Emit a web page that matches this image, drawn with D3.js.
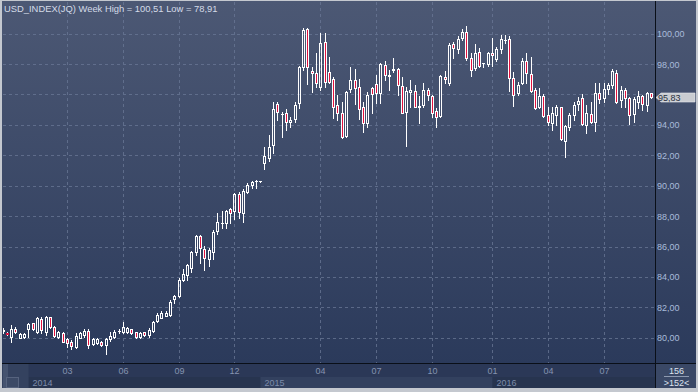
<!DOCTYPE html>
<html><head><meta charset="utf-8">
<script src="https://cdn.jsdelivr.net/npm/d3@7"></script>
<style>html,body{margin:0;padding:0;background:#c4c8cf;overflow:hidden}svg{display:block}</style>
</head><body><svg id="c" width="698" height="392"></svg>
<script>
// ---------- data ----------
const opens = [80.45,80.30,80.07,80.60,80.00,80.05,80.55,80.95,80.40,81.20,80.40,81.34,80.73,80.03,80.29,79.90,79.70,79.41,80.00,80.18,
80.46,79.58,79.63,79.74,79.52,79.90,80.02,80.44,80.35,80.40,80.55,80.35,80.02,80.35,80.18,80.46,81.12,81.27,81.43,81.50,
82.57,82.75,83.80,84.13,84.56,85.66,86.69,85.81,85.18,85.66,87.02,87.57,87.57,88.45,88.34,89.43,88.23,89.61,90.03,90.28,
90.28,91.48,91.80,92.68,95.37,94.72,94.76,94.17,94.37,95.42,97.79,100.29,97.55,97.43,96.52,99.47,97.50,97.00,95.31,94.80,
93.27,96.34,96.95,96.51,95.15,94.10,96.40,96.69,96.08,97.94,97.24,97.61,97.65,96.56,94.87,96.19,96.23,95.20,95.31,96.30,
95.90,94.94,94.59,97.13,96.73,99.32,98.97,99.69,100.09,98.38,97.72,98.80,98.05,98.00,98.71,98.31,98.97,99.58,99.63,97.06,
96.08,96.73,98.22,97.35,96.30,95.15,95.90,94.65,94.10,94.65,95.16,92.96,93.88,94.65,95.37,95.75,94.00,94.72,94.21,96.12,
95.75,96.34,96.63,97.39,95.64,96.30,95.75,94.72,95.53,95.90,95.31,96.08];
const highs = [80.62,80.35,80.84,80.73,80.30,80.28,80.95,81.00,81.38,81.38,81.43,81.38,80.75,80.46,80.40,79.96,79.85,80.29,80.40,80.55,
80.55,79.96,79.98,79.80,79.96,80.40,80.50,80.55,81.05,80.68,80.60,80.40,80.35,80.40,80.62,81.12,81.65,81.78,81.75,82.48,
82.80,83.90,84.50,84.85,85.72,86.76,86.76,86.03,85.88,87.08,88.18,88.36,88.40,88.51,89.54,89.60,89.76,90.20,90.33,90.37,
90.30,92.53,93.34,95.50,95.53,94.87,95.02,94.54,95.53,97.87,100.39,100.35,97.83,98.71,100.02,100.02,98.49,97.17,95.97,95.53,
96.25,97.79,97.66,97.00,95.53,96.19,96.51,97.28,98.09,98.22,97.61,98.38,97.72,97.17,96.51,96.95,96.62,95.90,96.78,96.40,
95.97,95.09,97.28,97.57,99.41,99.47,99.85,100.29,100.51,98.71,99.32,99.04,98.10,98.82,99.69,99.15,99.91,99.91,99.85,97.50,
96.84,98.38,98.71,98.44,96.40,96.40,96.00,95.20,95.20,95.31,95.20,94.00,94.76,95.53,95.81,96.03,95.31,95.53,96.73,96.73,
96.78,96.78,97.66,97.61,96.56,96.41,95.86,95.86,96.25,95.97,96.19,96.10];
const lows = [80.30,80.20,79.74,80.29,79.95,80.00,80.07,80.50,80.29,80.33,80.18,80.62,80.05,80.00,79.70,79.41,79.24,79.30,79.96,80.07,
79.30,79.52,79.60,79.45,78.91,79.78,79.96,80.29,80.29,80.29,80.25,79.96,79.96,80.10,80.07,80.40,81.05,81.27,81.40,81.45,
82.30,82.70,83.75,83.80,84.34,85.44,84.94,84.45,84.72,85.15,86.82,87.20,87.20,87.52,87.79,87.85,87.63,89.50,89.83,89.83,
90.26,91.10,91.60,92.13,94.32,93.22,93.66,93.84,94.21,95.09,97.61,96.69,96.19,96.52,96.30,96.52,96.73,94.43,94.32,93.13,
93.20,96.19,95.37,94.37,93.55,93.84,94.76,95.46,95.42,96.95,96.30,97.50,95.97,94.76,92.62,95.15,95.15,94.10,95.15,95.64,
94.54,93.84,94.50,96.73,96.62,98.38,98.71,99.58,98.30,97.22,97.61,97.83,97.83,97.87,97.87,98.23,98.71,99.37,96.25,95.25,
95.97,96.69,96.78,96.19,95.02,95.09,94.55,94.00,93.67,94.00,93.00,91.91,93.67,94.32,94.98,94.00,93.45,94.10,93.62,95.42,
95.53,96.03,96.41,95.42,95.20,95.20,94.06,94.21,95.09,94.98,94.94,95.80];
const closes = [80.50,80.25,80.55,80.35,80.22,80.22,80.90,80.57,81.27,80.50,81.34,80.68,80.11,80.40,79.74,79.63,79.46,80.11,80.29,80.44,
79.52,79.90,79.90,79.52,79.92,80.11,80.40,80.44,80.73,80.62,80.29,80.07,80.29,80.15,80.50,81.05,81.50,81.65,81.65,82.37,
82.74,83.80,84.17,84.78,85.66,86.69,85.92,85.22,85.77,86.97,87.63,87.57,88.34,88.23,89.43,88.29,89.67,90.05,90.24,90.30,
90.28,91.96,92.57,95.03,94.87,94.70,94.21,94.32,95.31,97.79,100.24,97.83,97.39,96.78,99.41,96.84,96.84,95.20,94.80,93.18,
96.19,96.95,96.40,95.02,94.10,95.97,96.03,96.08,98.00,97.28,97.30,97.65,96.62,94.80,96.25,96.30,95.20,95.25,96.30,95.97,
94.80,94.54,97.22,97.00,99.26,99.04,99.63,100.09,98.38,97.61,98.75,97.87,98.08,98.75,98.60,98.97,99.63,99.60,97.06,95.97,
96.62,98.22,97.39,96.25,95.09,95.90,94.60,94.21,94.76,95.20,93.05,93.93,94.65,95.31,95.59,94.06,94.76,94.21,96.08,95.68,
96.34,96.63,97.57,95.53,96.30,95.75,94.65,95.68,95.90,95.37,96.12,95.83];

const monthTickIdx    = [15, 28, 41, 54, 74, 87, 100, 114, 127, 140];
const monthTickLabels = ["03","06","09","12","04","07","10","01","04","07"];
const yearStartIdx    = [6, 60, 114];
const yearLabels      = ["2014","2015","2016"];
const priceTicks      = [80,82,84,86,88,90,92,94,96,98,100];
const titleText       = "USD_INDEX(JQ) Week High = 100,51 Low  = 78,91";
const lastPrice       = 95.83;
const totalCount      = "156";
const visibleCount    = ">152<";

// ---------- layout ----------
const W = 698, H = 392;
const plot = {l: 3, r: 655, t: 2, b: 363};
const n = closes.length;
const svg = d3.select("#c");
const x = d3.scaleLinear().domain([0, n - 1]).range([2.6, 650.8]);
const y = d3.scaleLinear().domain([80, 100]).range([337.7, 33.7]);
const fmt = v => d3.format(".2f")(v).replace(".", ",");
const FONT = "Liberation Sans, Arial, sans-serif";

const defs = svg.append("defs");
const grad = defs.append("linearGradient").attr("id","bg").attr("x1",0).attr("y1",0).attr("x2",0).attr("y2",1);
grad.append("stop").attr("offset","0%").attr("stop-color","#4c5874");
grad.append("stop").attr("offset","100%").attr("stop-color","#2b3a5b");
defs.append("clipPath").attr("id","pc").append("rect")
  .attr("x",plot.l).attr("y",plot.t).attr("width",plot.r-plot.l).attr("height",plot.b-plot.t);

// frame
svg.append("rect").attr("x",0).attr("y",0).attr("width",W).attr("height",H).attr("fill","#c4c8cf");
svg.append("rect").attr("x",2).attr("y",1).attr("width",W-4).attr("height",plot.b-1).attr("fill","url(#bg)");

// bottom axis band
svg.append("rect").attr("x",2).attr("y",plot.b).attr("width",plot.r-2).attr("height",25).attr("fill","#2b3857");
const yb = yearStartIdx.map(i => Math.round(x(i)) + 0.5);
yearLabels.forEach((lab, k) => {
  const x0 = yb[k], x1 = k < yb.length - 1 ? yb[k+1] : plot.r;
  svg.append("rect").attr("x",x0).attr("y",377).attr("width",x1-x0).attr("height",11)
    .attr("fill", k % 2 ? "#33415f" : "#27344f");
  svg.append("text").attr("x",x0+4).attr("y",386).text(lab)
    .attr("font-family",FONT).attr("font-size",9).attr("fill","#7d8cab");
});
svg.append("rect").attr("x",2).attr("y",plot.b).attr("width",yb[0]-2).attr("height",25).attr("fill","#34425f");
svg.append("rect").attr("x",3).attr("y",364).attr("width",5).attr("height",24).attr("fill","#45536f");
svg.append("rect").attr("x",6.5).attr("y",377.5).attr("width",12).attr("height",10).attr("fill","#3c4a66").attr("stroke","#56637e");

// right bottom panel
svg.append("rect").attr("x",plot.r).attr("y",plot.b).attr("width",W-2-plot.r).attr("height",25).attr("fill","#3a4866");

// grid
const grid = svg.append("g").attr("stroke","#6a7896").attr("stroke-width",1).attr("stroke-dasharray","3,3").attr("opacity",0.75);
grid.selectAll("line.h").data(priceTicks).join("line")
  .attr("x1",plot.l).attr("x2",plot.r)
  .attr("y1",d => Math.round(y(d))+0.5).attr("y2",d => Math.round(y(d))+0.5);
grid.selectAll("line.v").data(monthTickIdx).join("line")
  .attr("y1",plot.t).attr("y2",plot.b)
  .attr("x1",d => Math.round(x(d))+0.5).attr("x2",d => Math.round(x(d))+0.5);

// month labels
svg.append("g").selectAll("text").data(monthTickIdx).join("text")
  .attr("x",d => Math.round(x(d))+0.5).attr("y",374).attr("text-anchor","middle")
  .attr("font-family",FONT).attr("font-size",9).attr("fill","#8593b0")
  .text((d,i) => monthTickLabels[i]);

// candles
const cg = svg.append("g").attr("clip-path","url(#pc)");
const RED = "#e2123f", WHITE = "#ffffff";
const cs = cg.selectAll("g").data(d3.range(n)).join("g");
cs.each(function(i) {
  const g = d3.select(this);
  const cx = Math.round(x(i));
  const o = opens[i], c = closes[i];
  const yH = Math.round(y(highs[i])), yL = Math.round(y(lows[i]));
  const yT = Math.round(y(Math.max(o,c))), yB = Math.round(y(Math.min(o,c)));
  if (yT > yH) g.append("line").attr("x1",cx+0.5).attr("x2",cx+0.5).attr("y1",yH).attr("y2",yT).attr("stroke",WHITE);
  if (yL > yB) g.append("line").attr("x1",cx+0.5).attr("x2",cx+0.5).attr("y1",yB+1).attr("y2",yL+1).attr("stroke",WHITE);
  if (yB - yT < 2) {
    g.append("rect").attr("x",cx-1).attr("y",yT).attr("width",3).attr("height",yB-yT+1)
      .attr("fill", c < o && yB - yT >= 1 ? RED : WHITE);
  } else {
    g.append("rect").attr("x",cx-0.5).attr("y",yT+0.5).attr("width",2).attr("height",yB-yT)
      .attr("fill", c < o ? RED : "none").attr("stroke",WHITE).attr("stroke-width",1);
  }
});

// separators
svg.append("line").attr("x1",2).attr("x2",W-2).attr("y1",plot.b+0.5).attr("y2",plot.b+0.5).attr("stroke","#0a0f18").attr("stroke-width",1);
svg.append("line").attr("x1",plot.r+0.5).attr("x2",plot.r+0.5).attr("y1",1).attr("y2",388).attr("stroke","#0a0f18").attr("stroke-width",1);

// last price tag position (it covers the axis label beneath it, as in the reference)
const yc = Math.round(y(lastPrice)) + 0.5;

// right axis labels
svg.append("g").selectAll("text").data(priceTicks.filter(d => Math.abs(y(d) - yc) > 10)).join("text")
  .attr("x",657).attr("y",d => y(d)+3.5)
  .attr("font-family",FONT).attr("font-size",9).attr("fill","#a9bcda")
  .text(d => fmt(d));

svg.append("path")
  .attr("d",`M${plot.r+1},${yc} L${plot.r+6},${yc-4.5} L695,${yc-4.5} L695,${yc+4.5} L${plot.r+6},${yc+4.5} Z`)
  .attr("fill","#c9ccd1").attr("stroke","#e8eaee").attr("stroke-width",0.6);
svg.append("text").attr("x",658).attr("y",yc+3.5).text(fmt(lastPrice))
  .attr("font-family",FONT).attr("font-size",9).attr("fill","#2a3040");

// count labels
svg.append("text").attr("x",676.5).attr("y",373.5).attr("text-anchor","middle").text(totalCount)
  .attr("font-family",FONT).attr("font-size",9).attr("fill","#dde3ee");
svg.append("line").attr("x1",664).attr("x2",689).attr("y1",376.5).attr("y2",376.5).attr("stroke","#8e9ab0");
svg.append("text").attr("x",676.5).attr("y",386).attr("text-anchor","middle").text(visibleCount)
  .attr("font-family",FONT).attr("font-size",9).attr("fill","#dde3ee");

// title
svg.append("text").attr("x",4).attr("y",12).text(titleText)
  .attr("font-family",FONT).attr("font-size",9.4).attr("fill","#d4dbe8");
</script></body></html>
